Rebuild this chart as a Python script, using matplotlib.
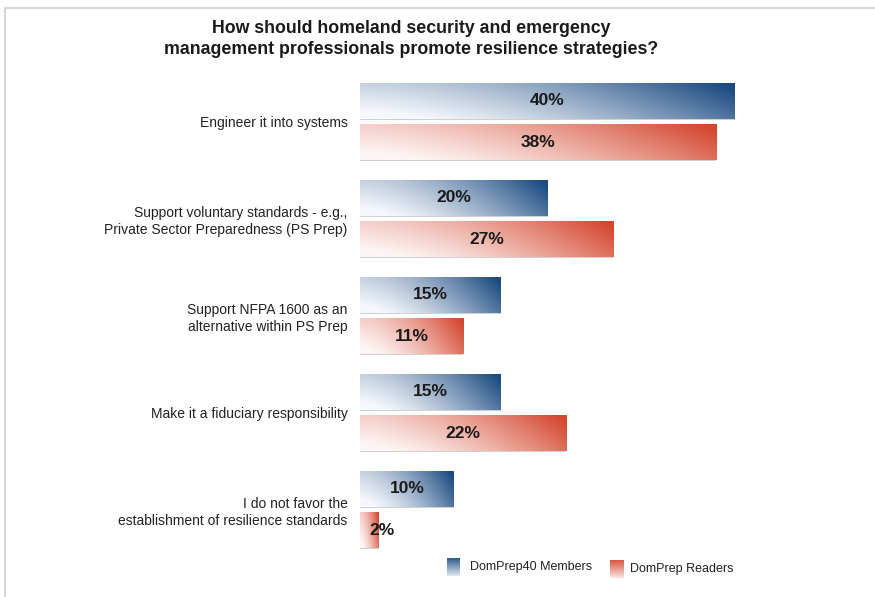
import numpy as np
import matplotlib
matplotlib.use("Agg")
import matplotlib.pyplot as plt
from matplotlib.patches import Rectangle
from matplotlib.lines import Line2D
from matplotlib.colors import to_rgb

plt.rcParams['font.family'] = ['Liberation Sans', 'DejaVu Sans']

# ---- data ----
categories = [
    "Engineer it into systems",
    "Support voluntary standards - e.g.,\nPrivate Sector Preparedness (PS Prep)",
    "Support NFPA 1600 as an\nalternative within PS Prep",
    "Make it a fiduciary responsibility",
    "I do not favor the\nestablishment of resilience standards",
]
members = [40, 20, 15, 15, 10]
readers = [38, 27, 11, 22, 2]
series_names = ["DomPrep40 Members", "DomPrep Readers"]
title = ("How should homeland security and emergency\n"
         "management professionals promote resilience strategies?")

# ---- style ----
W, H = 875, 597
blue_light, blue_dark = np.array(to_rgb("#f5f8fc")), np.array(to_rgb("#1b4a81"))
red_light, red_dark = np.array(to_rgb("#fdf5f3")), np.array(to_rgb("#d4462e"))

fig = plt.figure(figsize=(W / 100, H / 100), dpi=100)
fig.patch.set_facecolor("white")

ax_left, ax_right = 360 / W, 735 / W
ax_top, ax_bot = 1 - 73 / H, 1 - 558 / H
ax = fig.add_axes([ax_left, ax_bot, ax_right - ax_left, ax_top - ax_bot])


def gradient_img(light, dark, nx=256, ny=32):
    xs = np.linspace(0, 1, nx)
    ys = np.linspace(0, 1, ny)
    X, Y = np.meshgrid(xs, ys)
    t = np.clip(0.82 * X ** 1.5 + 0.28 * (1 - Y) - 0.06, 0, 1)
    return light[None, None, :] * (1 - t[..., None]) + dark[None, None, :] * t[..., None]


def grad_bar(ax, value, y0, y1, light, dark):
    # soft shadow
    ax.add_patch(Rectangle((-0.12, y0 + 0.012), value + 0.12, y1 - y0,
                           facecolor="#d0d0d0", edgecolor="none", zorder=1))
    ax.imshow(gradient_img(light, dark), extent=(0, value, y1, y0),
              aspect="auto", origin="upper", interpolation="bilinear", zorder=2)


pos = np.arange(len(categories))
bh, off = 0.37, 0.03
for i, (m, r) in enumerate(zip(members, readers)):
    grad_bar(ax, m, pos[i] - off - bh, pos[i] - off, blue_light, blue_dark)
    grad_bar(ax, r, pos[i] + off, pos[i] + off + bh, red_light, red_dark)
    ax.text(max(m / 2, 2.3), pos[i] - off - bh / 2, f"{m}%", ha="center", va="center",
            fontsize=12.5, fontweight="bold", color="#1a1a1a", zorder=3)
    ax.text(max(r / 2, 2.3), pos[i] + off + bh / 2, f"{r}%", ha="center", va="center",
            fontsize=12.5, fontweight="bold", color="#1a1a1a", zorder=3)

ax.set_xlim(0, 40)
ax.set_ylim(len(categories) - 0.5, -0.5)
ax.set_yticks(pos)
ax.set_yticklabels(categories, fontsize=10, color="#222222", linespacing=1.3)
ax.tick_params(axis="y", length=0, pad=9)
ax.set_xticks([])
for s in ax.spines.values():
    s.set_visible(False)
ax.patch.set_alpha(0)

# title
fig.text(411 / W, 1 - 39 / H, title, ha="center", va="center", fontsize=12.8,
         fontweight="bold", color="#1a1a1a", linespacing=1.3)

# legend
def swatch(x0, y0, w, h, light, dark):
    sax = fig.add_axes([x0 / W, 1 - (y0 + h) / H, w / W, h / H])
    ys = np.linspace(0, 1, 32)[:, None]
    t = (1 - ys) * 0.8 + 0.1
    img = light[None, None, :] * (1 - t[..., None]) + dark[None, None, :] * t[..., None]
    img = np.repeat(img, 4, axis=1)
    sax.imshow(img, aspect="auto", interpolation="bilinear")
    sax.axis("off")

swatch(447, 558, 13, 18, blue_light, blue_dark)
swatch(610, 560, 13, 18, red_light, red_dark)
fig.text(470 / W, 1 - 567 / H, series_names[0], ha="left", va="center", fontsize=9, color="#222222")
fig.text(630 / W, 1 - 569 / H, series_names[1], ha="left", va="center", fontsize=9, color="#222222")

# frame lines
fig.add_artist(Line2D([5 / W, 1], [1 - 7.5 / H, 1 - 7.5 / H], color="#d6d6d6", lw=1.5,
                      transform=fig.transFigure))
fig.add_artist(Line2D([5 / W, 5 / W], [0, 1 - 7.5 / H], color="#d6d6d6", lw=1.5,
                      transform=fig.transFigure))

fig.savefig("out.png", dpi=100)
